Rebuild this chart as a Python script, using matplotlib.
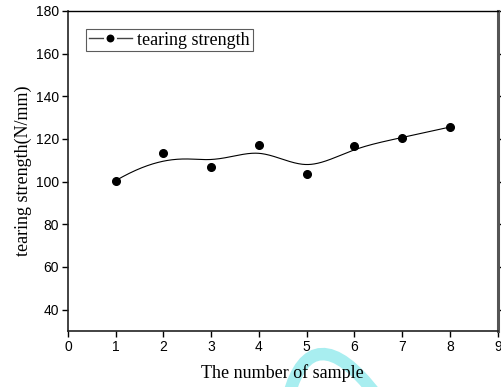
import numpy as np
import matplotlib
matplotlib.use("Agg")
import matplotlib.pyplot as plt
from matplotlib.path import Path
from matplotlib.patches import PathPatch
from matplotlib.lines import Line2D

# Data
sample = [1, 2, 3, 4, 5, 6, 7, 8]
strength = [100.5, 113.5, 107.0, 117.3, 103.5, 116.9, 120.5, 125.6]
series_label = "tearing strength"
x_label = "The number of sample"
y_label = "tearing strength(N/mm)"
x_ticks = list(range(0, 10))
y_ticks = [40, 60, 80, 100, 120, 140, 160, 180]


def bspline_curve(cx, cy, k=3, num=400):
    cx = np.asarray(cx, float)
    cy = np.asarray(cy, float)
    n = len(cx)
    knots = np.concatenate([np.zeros(k), np.arange(n - k + 1), np.full(k, n - k)]).astype(float)
    t = np.linspace(0, n - k, num)
    m = len(knots) - 1
    B = np.zeros((len(t), m))
    for i in range(m):
        B[:, i] = (t >= knots[i]) & (t < knots[i + 1])
    last = max(i for i in range(m) if knots[i] < knots[i + 1])
    B[t >= knots[-1], last] = 1.0
    for d in range(1, k + 1):
        Bn = np.zeros((len(t), m - d))
        for i in range(m - d):
            term = np.zeros(len(t))
            den1 = knots[i + d] - knots[i]
            if den1 > 0:
                term += (t - knots[i]) / den1 * B[:, i]
            den2 = knots[i + d + 1] - knots[i + 1]
            if den2 > 0:
                term += (knots[i + d + 1] - t) / den2 * B[:, i + 1]
            Bn[:, i] = term
        B = Bn
    return B @ cx, B @ cy


W, H = 502, 387
fig = plt.figure(figsize=(W / 100, H / 100), dpi=100)

# watermark (decorative arc) behind everything
bg = fig.add_axes([0, 0, 1, 1], zorder=0)
bg.set_xlim(0, W)
bg.set_ylim(H, 0)
bg.axis("off")
verts = [(289, 395), (303, 343), (333, 338), (376, 395)]
codes = [Path.MOVETO, Path.CURVE4, Path.CURVE4, Path.CURVE4]
bg.add_patch(PathPatch(Path(verts, codes), facecolor="none", edgecolor="#a8eef0",
                       linewidth=9, capstyle="butt"))

ax = fig.add_axes([68 / W, 1 - 331 / H, (497.7 - 68) / W, (331 - 11) / H], zorder=1)
ax.patch.set_alpha(0)

sx, sy = bspline_curve(sample, strength)
ax.plot(sx, sy, color="black", linewidth=0.8, zorder=2)
ax.plot(sample, strength, linestyle="none", marker="o", markersize=5.5,
        color="black", zorder=3)
handle = Line2D([], [], color="#444444", linewidth=1.0, marker="o",
                markersize=7.5, markerfacecolor="black", markeredgecolor="white",
                markeredgewidth=1.8)

ax.set_xlim(0, 9)
ax.set_ylim(30, 180)
ax.set_xticks(x_ticks)
ax.set_yticks(y_ticks)

tick_font = {"family": "Liberation Sans", "size": 10}
ax.set_xticklabels([str(v) for v in x_ticks], fontdict=tick_font)
ax.set_yticklabels([str(v) for v in y_ticks], fontdict=tick_font)
ax.tick_params(axis="both", direction="out", length=4.5, width=1.0, pad=2)
ax.tick_params(axis="y", right=True, which="both")

for side in ["left", "bottom"]:
    ax.spines[side].set_linewidth(1.2)
    ax.spines[side].set_color("#222222")
ax.spines["top"].set_linewidth(1.0)
ax.spines["top"].set_color("black")
ax.spines["right"].set_linewidth(2.2)
ax.spines["right"].set_color("#555555")

serif = {"family": "Liberation Serif", "size": 13}
ax.set_xlabel(x_label, fontdict=serif, labelpad=7)
ax.set_ylabel(y_label, fontdict=serif, labelpad=3)

leg = ax.legend([handle], [series_label], loc="upper left",
                bbox_to_anchor=(18 / 429.7, 1 - 18 / 320),
                prop={"family": "Liberation Serif", "size": 13},
                frameon=True, fancybox=False, edgecolor="#333333",
                handlelength=2.4, handletextpad=0.3, borderpad=0.15,
                borderaxespad=0.0, numpoints=1)
leg.get_frame().set_linewidth(0.8)

fig.savefig("out.png", dpi=100)
